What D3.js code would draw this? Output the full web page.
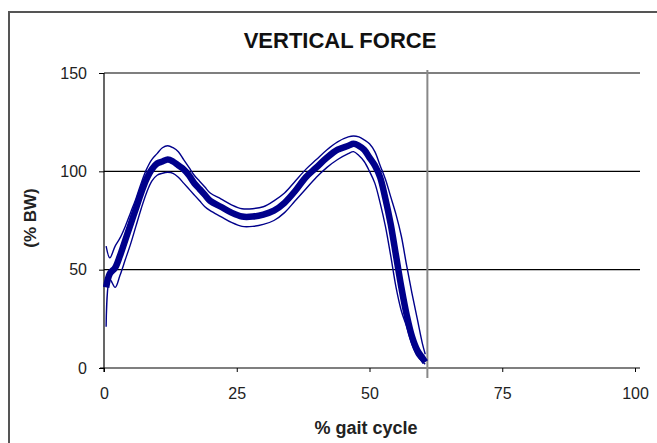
<!DOCTYPE html>
<html><head><meta charset="utf-8">
<script src="https://cdn.jsdelivr.net/npm/d3@7"></script>
<style>body{margin:0;background:#fff;}svg{display:block;font-family:Arial,"Liberation Sans",sans-serif;}</style>
</head><body>
<script>
const title = "VERTICAL FORCE";
const xLabel = "% gait cycle";
const yLabel = "(% BW)";
const xTicks = [0, 25, 50, 75, 100];
const yTicks = [0, 50, 100, 150];
const toeOff = 60.9;

const gait  = [0.4, 1.1, 2.1, 3, 4, 5, 6, 7, 8, 9, 10, 11, 12, 13, 14, 15, 16, 17, 18, 19, 20, 22, 24, 26, 28, 30, 32, 34, 36, 38, 40, 42, 44, 46, 47, 48, 49, 50, 51, 52, 53, 54, 55, 56, 57, 58, 59, 60, 60.5];
const mean  = [41, 48, 51, 57, 65, 73, 81, 89, 96, 101, 104, 105, 106, 105, 103, 101, 98, 94, 91, 88, 85, 82, 79, 77, 77, 78, 80, 84, 90, 97, 102, 107, 111, 113, 114, 113, 111, 107, 103, 97, 86, 73, 57, 41, 27, 16, 9, 5, 3];
const upper = [62, 56, 62, 66, 72, 79, 86, 94, 101, 106, 109, 112, 113, 112, 110, 106, 102, 98, 95, 92, 89, 86, 83, 81, 81, 82, 85, 89, 95, 101, 106, 111, 115, 117.5, 118, 117.5, 116, 114, 110, 103, 96, 87, 78, 67, 52, 38, 25, 12, 7];
const lower = [21, 45, 41, 47, 55, 63, 72, 81, 89, 95, 98, 99, 99.5, 99, 97, 94, 91, 88, 85, 82, 80, 77, 74, 72, 72, 73, 75, 79, 85, 91, 97, 102, 106, 109, 110, 108, 105, 100, 94, 84, 72, 57, 41, 29, 21, 12, 6, 3, 2];

const W = 657, H = 443;
const svg = d3.select("body").append("svg").attr("width", W).attr("height", H);

// outer frame
svg.append("rect").attr("x", 9).attr("y", 12).attr("width", W + 20).attr("height", H + 20)
  .attr("fill", "none").attr("stroke", "#555").attr("stroke-width", 2);

const x = d3.scaleLinear().domain([0, 100]).range([104, 635]);
const y = d3.scaleLinear().domain([0, 150]).range([368, 73]);
const gridEnd = 640;

// gridlines
svg.append("g").selectAll("line").data(yTicks.filter(d => d > 0)).join("line")
  .attr("x1", x(0)).attr("x2", gridEnd).attr("y1", d => y(d)).attr("y2", d => y(d))
  .attr("stroke", "#000").attr("stroke-width", 1.2);

// x axis
const xAxis = svg.append("g").attr("transform", `translate(0,${y(0)})`)
  .call(d3.axisBottom(x).tickValues(xTicks).tickSize(4).tickPadding(16).tickFormat(d3.format("d")));
xAxis.select(".domain").attr("d", `M${x(0) - 4},0H${gridEnd}`).attr("stroke-width", 1.2);
xAxis.selectAll("text").attr("font-size", 16).attr("fill", "#222").attr("font-family", "Arial, Liberation Sans, sans-serif");

// y axis
const yAxis = svg.append("g").attr("transform", `translate(${x(0)},0)`)
  .call(d3.axisLeft(y).tickValues(yTicks).tickSize(5).tickPadding(12).tickFormat(d3.format("d")));
yAxis.select(".domain").attr("d", `M0,${y(150)}V${y(0) + 4}`).attr("stroke-width", 1.2);
yAxis.selectAll("text").attr("font-size", 16).attr("fill", "#222").attr("font-family", "Arial, Liberation Sans, sans-serif");

// toe-off vertical line
svg.append("line").attr("x1", x(toeOff)).attr("x2", x(toeOff))
  .attr("y1", y(150) - 3).attr("y2", y(0) + 10)
  .attr("stroke", "#888").attr("stroke-width", 2);

const line = d3.line().x((d, i) => x(gait[i])).y(d => y(d)).curve(d3.curveCatmullRom.alpha(0.5));
const navy = "#00008b";
svg.append("path").datum(upper).attr("d", line).attr("fill", "none").attr("stroke", navy).attr("stroke-width", 1.4);
svg.append("path").datum(lower).attr("d", line).attr("fill", "none").attr("stroke", navy).attr("stroke-width", 1.4);
svg.append("path").datum(mean).attr("d", line).attr("fill", "none").attr("stroke", navy).attr("stroke-width", 6.5).attr("stroke-linejoin", "round");

// texts
svg.append("text").attr("x", 340).attr("y", 48).attr("text-anchor", "middle")
  .attr("font-size", 22).attr("font-weight", "bold").attr("fill", "#111").text(title);
svg.append("text").attr("x", 366).attr("y", 434).attr("text-anchor", "middle")
  .attr("font-size", 18).attr("font-weight", "bold").attr("fill", "#222").text(xLabel);
svg.append("text").attr("transform", "translate(36,218) rotate(-90)").attr("text-anchor", "middle")
  .attr("font-size", 17).attr("font-weight", "bold").attr("fill", "#222").text(yLabel);
</script>
</body></html>
